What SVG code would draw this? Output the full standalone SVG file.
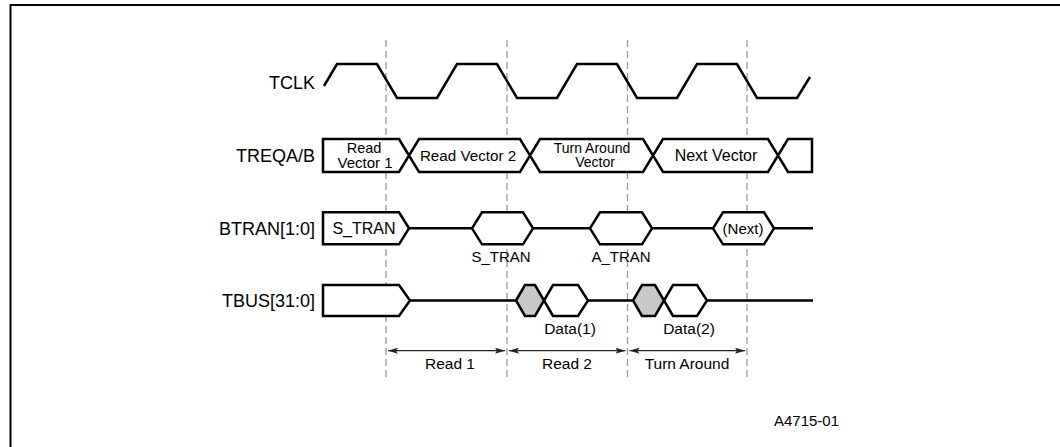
<svg xmlns="http://www.w3.org/2000/svg" width="1060" height="447" viewBox="0 0 1060 447">
<style>
.w{fill:none;stroke:#000;stroke-width:2.5;stroke-linejoin:miter}
.b{fill:#fff;stroke:#000;stroke-width:2.5}
.g{fill:#c8c8c8;stroke:#000;stroke-width:2.5}
.d{stroke:#999;stroke-width:1.3;stroke-dasharray:7 4;fill:none}
.lbl{font-family:"Liberation Sans",Arial,sans-serif;font-size:18px;fill:#000;text-anchor:end}
.t{font-family:"Liberation Sans",Arial,sans-serif;font-size:15.5px;fill:#000;text-anchor:middle}
.a{stroke:#222;stroke-width:1.2;fill:none;marker-start:url(#ah);marker-end:url(#ah)}
</style>
<defs>
<marker id="ah" viewBox="0 0 10 6" refX="10" refY="3" markerWidth="10" markerHeight="6" markerUnits="userSpaceOnUse" orient="auto-start-reverse">
<path d="M0,0 L10,3 L0,6 L2,3 Z" fill="#222"/>
</marker>
</defs>
<rect width="1060" height="447" fill="#fff"/>
<path d="M10.5,447 V5 H1060" fill="none" stroke="#000" stroke-width="2"/>
<g id="gridlines">
<line class="d" x1="386" y1="40" x2="386" y2="378"/>
<line class="d" x1="507" y1="40" x2="507" y2="378"/>
<line class="d" x1="627.5" y1="40" x2="627.5" y2="378"/>
<line class="d" x1="747" y1="40" x2="747" y2="378"/>
</g>
<g id="labels">
<text class="lbl" x="315" y="89">TCLK</text>
<text class="lbl" x="315" y="162">TREQA/B</text>
<text class="lbl" x="315" y="235">BTRAN[1:0]</text>
<text class="lbl" x="315" y="307">TBUS[31:0]</text>
</g>
<g id="tclk">
<path class="w" d="M324,86 L337,64 H377 L397,98 H437 L457,64 H497 L517,98 H557 L577,64 H617 L637,98 H677 L697,64 H737 L757,98 H797 L810,77"/>
</g>
<g id="treq">
<path class="b" d="M323,172 V139 H399 L419,172 H520 L540,139 H643 L663,172 H768 L788,139 H812 V172 H788 L768,139 H663 L643,172 H540 L520,139 H419 L399,172 Z"/>
<text class="t" x="364" y="153" style="font-size:14.5px">Read</text>
<text class="t" x="365" y="168" style="font-size:15px">Vector 1</text>
<text class="t" x="592" y="152.5" style="font-size:14px">Turn Around</text>
<text class="t" x="595" y="167" style="font-size:14px">Vector</text>
<text class="t" x="468" y="161" style="font-size:15.2px">Read Vector 2</text>
<text class="t" x="716" y="161" style="font-size:16px">Next Vector</text>
</g>
<g id="btran">
<path class="w" d="M409,228.3 H472 M533,228.3 H590 M652,228.3 H713 M774,228.3 H813"/>
<path class="b" d="M323,212.3 H399 L409,228.3 L399,244.3 H323 Z"/>
<path class="b" d="M472,228.3 L482,212.3 H523 L533,228.3 L523,244.3 H482 Z"/>
<path class="b" d="M590,228.3 L600,212.3 H642 L652,228.3 L642,244.3 H600 Z"/>
<path class="b" d="M713,228.3 L723,212.3 H764 L774,228.3 L764,244.3 H723 Z"/>
<text class="t" x="364" y="234" style="font-size:16px">S_TRAN</text>
<text class="t" x="743" y="234" style="font-size:15px">(Next)</text>
<text class="t" x="501" y="262" style="font-size:15px">S_TRAN</text>
<text class="t" x="621" y="262" style="font-size:15px">A_TRAN</text>
</g>
<g id="tbus">
<path class="w" d="M410,300.5 H516 M588,300.5 H633 M707,300.5 H813"/>
<path class="b" d="M323,285 H399 L410,300.5 L399,316 H323 Z"/>
<path class="g" d="M516,300.5 L525,285 H535 L544,300.5 L535,316 H525 Z"/>
<path class="b" d="M544,300.5 L553,285 H578 L588,300.5 L578,316 H553 Z"/>
<path class="g" d="M633,300.5 L642,285 H655 L664,300.5 L655,316 H642 Z"/>
<path class="b" d="M664,300.5 L673,285 H697 L707,300.5 L697,316 H673 Z"/>
<text class="t" x="570" y="333.5">Data(1)</text>
<text class="t" x="689" y="333.5">Data(2)</text>
</g>
<g id="connectors">
<line class="a" x1="388" y1="350.7" x2="505" y2="350.7"/>
<line class="a" x1="509" y1="350.7" x2="625.5" y2="350.7"/>
<line class="a" x1="629.5" y1="350.7" x2="745" y2="350.7"/>
</g>
<g id="phases">
<text class="t" x="450" y="368.5">Read 1</text>
<text class="t" x="567" y="368.5">Read 2</text>
<text class="t" x="687" y="368.5">Turn Around</text>
</g>
<text x="839" y="426" style="font-family:'Liberation Sans',Arial,sans-serif;font-size:15px;text-anchor:end">A4715-01</text>
</svg>
